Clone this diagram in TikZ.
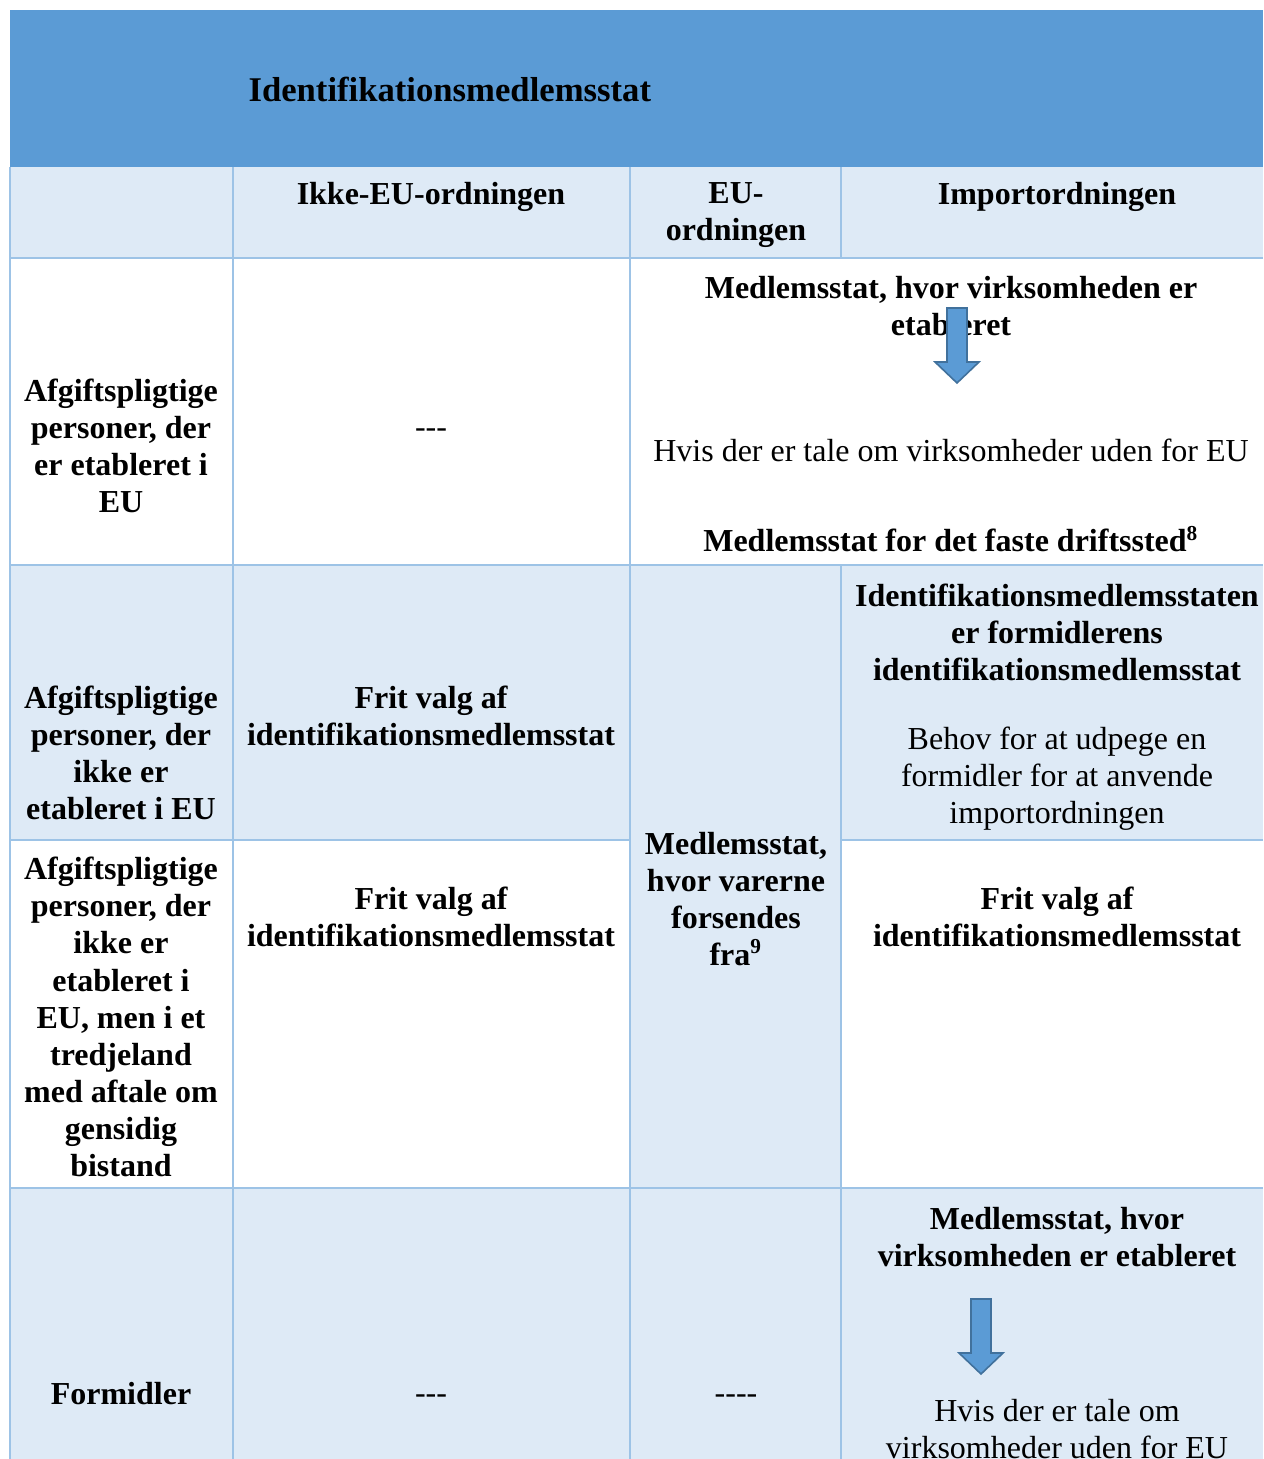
\documentclass[tikz,border=0pt]{standalone}
\usepackage{fontspec}
\setmainfont{Liberation Serif}
\usepackage{tikz}
\usetikzlibrary{positioning}

\definecolor{headblue}{RGB}{91,155,213}
\definecolor{rowblue}{RGB}{222,234,246}
\definecolor{gridblue}{RGB}{157,195,230}
\definecolor{arrowedge}{RGB}{65,113,156}

\tikzset{
  celltext/.style={align=center, inner sep=0pt, font=\fontsize{12}{13.9}\selectfont},
  cellbold/.style={celltext, font=\fontsize{12}{13.9}\selectfont\bfseries},
  gridline/.style={gridblue, line width=0.75pt}
}

% block arrow pointing down: centre x, top y
\newcommand{\flowarrow}[2]{%
  \draw[fill=headblue, draw=arrowedge, line width=0.6pt]
    (#1-10,#2) -- (#1+10,#2) -- (#1+10,#2+54) -- (#1+22,#2+54)
    -- (#1,#2+75) -- (#1-22,#2+54) -- (#1-10,#2+54) -- cycle;}

\begin{document}
\begin{tikzpicture}[x=0.375pt, y=-0.375pt]

  \useasboundingbox (0,0) rectangle (1263,1459);
  \clip (0,0) rectangle (1263,1459);

  % Backgrounds
  \fill[headblue] (10,10) rectangle (1263,167);
  \fill[rowblue] (10,167) rectangle (1263,258);
  \fill[rowblue] (10,565) rectangle (1263,840);
  \fill[rowblue] (630,840) rectangle (841,1188);
  \fill[rowblue] (10,1188) rectangle (1263,1459);

  % Grid
  \draw[gridline] (10,258) -- (1263,258);
  \draw[gridline] (10,565) -- (1263,565);
  \draw[gridline] (10,840) -- (630,840);
  \draw[gridline] (841,840) -- (1263,840);
  \draw[gridline] (10,1188) -- (1263,1188);
  \draw[gridline] (10,167) -- (10,1459);
  \draw[gridline] (233,167) -- (233,1459);
  \draw[gridline] (630,167) -- (630,1459);
  \draw[gridline] (841,167) -- (841,258);
  \draw[gridline] (841,565) -- (841,1459);

  % Title band
  \node[cellbold, anchor=west, font=\fontsize{13}{15}\selectfont\bfseries] (title) at (248,89) {Identifikationsmedlemsstat};

  % Column heads
  \node[cellbold] (ikkeEU) at (431,197) {Ikke-EU-ordningen};
  \node[cellbold] (EU) at (736,215) {EU-\\ordningen};
  \node[cellbold] (import) at (1057,197) {Importordningen};

  % Row 1
  \node[cellbold] (rowA) at (121,446) {Afgiftspligtige\\personer, der\\er etableret i\\EU};
  \node[celltext] (rowAikke) at (431,433) {-{}-{}-};
  \node[cellbold] (rowAtop) at (951,306) {Medlemsstat, hvor virksomheden er\\etableret};
  \node[celltext] (rowAhvis) at (951,450) {Hvis der er tale om virksomheder uden for EU};
  \node[cellbold] (rowAfast) at (951,539) {Medlemsstat for det faste driftssted\textsuperscript{8}};
  \flowarrow{957}{308}

  % Row 2
  \node[cellbold] (rowB) at (121,753) {Afgiftspligtige\\personer, der\\ikke er\\etableret i EU};
  \node[cellbold] (rowBikke) at (431,716) {Frit valg af\\identifikationsmedlemsstat};
  \node[cellbold] (rowBEU) at (736,899) {Medlemsstat,\\hvor varerne\\forsendes\\fra\textsuperscript{9}};
  \node[cellbold] (rowBimp) at (1057,632) {Identifikationsmedlemsstaten\\er formidlerens\\identifikationsmedlemsstat};
  \node[celltext] (rowBbehov) at (1057,779) {Behov for at udpege en\\formidler for at anvende\\importordningen};

  % Row 3
  \node[cellbold] (rowC) at (121,1017) {Afgiftspligtige\\personer, der\\ikke er\\etableret i\\EU, men i et\\tredjeland\\med aftale om\\gensidig\\bistand};
  \node[cellbold] (rowCikke) at (431,917) {Frit valg af\\identifikationsmedlemsstat};
  \node[cellbold] (rowCimp) at (1057,917) {Frit valg af\\identifikationsmedlemsstat};

  % Row 4
  \node[cellbold] (rowD) at (121,1394) {Formidler};
  \node[celltext] (rowDikke) at (431,1399) {-{}-{}-};
  \node[celltext] (rowDEU) at (736,1399) {-{}-{}-{}-};
  \node[cellbold] (rowDimp) at (1057,1237) {Medlemsstat, hvor\\virksomheden er etableret};
  \node[celltext] (rowDhvis) at (1057,1429) {Hvis der er tale om\\virksomheder uden for EU};
  \flowarrow{981}{1299}

\end{tikzpicture}
\end{document}
